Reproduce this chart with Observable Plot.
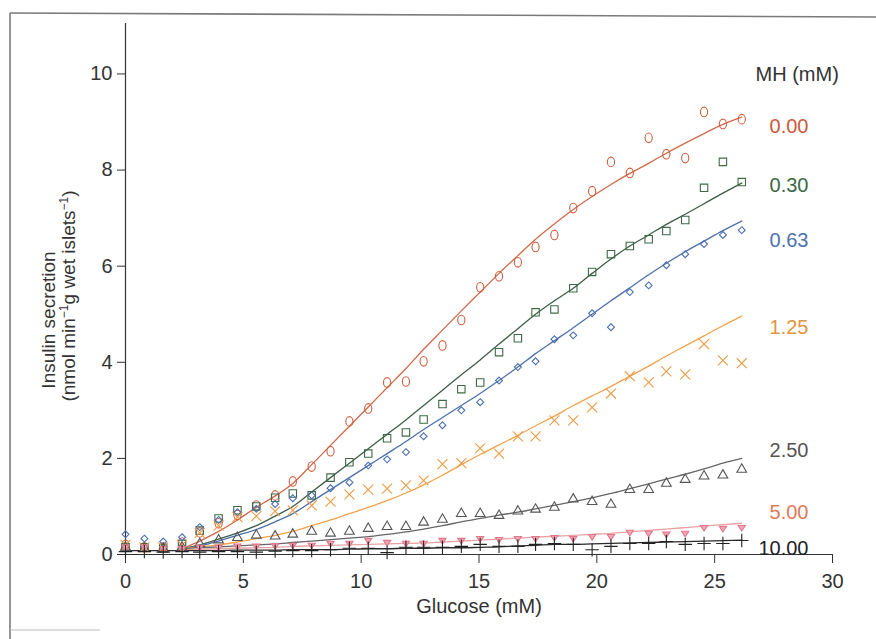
<!DOCTYPE html>
<html>
<head>
<meta charset="utf-8">
<script src="https://cdn.jsdelivr.net/npm/d3@7"></script>
<script src="https://cdn.jsdelivr.net/npm/@observablehq/plot@0.6"></script>
<style>
  html, body { margin: 0; padding: 0; background: #fff; }
  #chart { position: relative; width: 876px; height: 639px; overflow: hidden; }
</style>
</head>
<body>
<div id="chart"></div>
<script>
// ---------- data ----------
const mhLabels = ["0.00", "0.30", "0.63", "1.25", "2.50", "5.00", "10.00"];

const glucose = [0, 0.8, 1.6, 2.4, 3.15, 3.95, 4.75, 5.55, 6.35, 7.1, 7.9, 8.7, 9.5, 10.3, 11.1, 11.9, 12.65,
  13.45, 14.25, 15.05, 15.85, 16.65, 17.4, 18.2, 19.0, 19.8, 20.6, 21.4, 22.2, 22.95, 23.75, 24.55, 25.35, 26.15];

// measured insulin secretion (markers)
const obs000 = [0.2, 0.15, 0.15, 0.25, 0.46, 0.65, 0.82, 1.02, 1.23, 1.52, 1.83, 2.15, 2.77, 3.04, 3.58, 3.6, 4.02,
  4.35, 4.88, 5.56, 5.79, 6.08, 6.4, 6.65, 7.21, 7.56, 8.17, 7.94, 8.67, 8.33, 8.25, 9.21, 8.96, 9.06];
const obs030 = [0.15, 0.15, 0.13, 0.22, 0.5, 0.75, 0.92, 1.0, 1.18, 1.27, 1.23, 1.6, 1.92, 2.1, 2.42, 2.54, 2.81,
  3.13, 3.44, 3.58, 4.21, 4.5, 5.04, 5.1, 5.54, 5.88, 6.25, 6.42, 6.56, 6.73, 6.96, 7.63, 8.17, 7.75];
const obs063 = [0.42, 0.33, 0.27, 0.36, 0.57, 0.72, 0.88, 0.95, 1.05, 1.17, 1.23, 1.38, 1.5, 1.85, 1.98, 2.13, 2.46,
  2.69, 3.0, 3.17, 3.62, 3.9, 4.02, 4.48, 4.56, 5.02, 4.73, 5.46, 5.6, 6.02, 6.25, 6.46, 6.65, 6.75];
const obs125 = [0.2, 0.15, 0.15, 0.2, 0.45, 0.6, 0.78, 0.8, 0.9, 0.92, 1.02, 1.1, 1.25, 1.35, 1.37, 1.44, 1.54,
  1.88, 1.9, 2.21, 2.1, 2.46, 2.46, 2.79, 2.79, 3.06, 3.35, 3.71, 3.58, 3.81, 3.75, 4.38, 4.04, 3.98];
const obs250 = [0.15, 0.12, 0.12, 0.15, 0.22, 0.3, 0.35, 0.4, 0.38, 0.42, 0.48, 0.44, 0.48, 0.54, 0.58, 0.58, 0.67,
  0.73, 0.85, 0.85, 0.81, 0.9, 0.94, 0.98, 1.15, 1.1, 1.04, 1.35, 1.35, 1.48, 1.56, 1.63, 1.65, 1.77];
const obs500 = [0.15, 0.15, 0.12, 0.12, 0.15, 0.15, 0.17, 0.17, 0.18, 0.19, 0.19, 0.23, 0.23, 0.29, 0.25, 0.23, 0.23,
  0.29, 0.29, 0.33, 0.31, 0.33, 0.33, 0.35, 0.33, 0.37, 0.37, 0.46, 0.44, 0.42, 0.44, 0.56, 0.54, 0.56];
const obs1000 = [0.06, 0.06, 0.05, 0.06, 0.05, 0.06, 0.06, 0.05, 0.07, 0.08, 0.08, 0.1, 0.13, 0.13, 0.04, 0.15, 0.15,
  0.15, 0.17, 0.21, 0.17, 0.17, 0.21, 0.23, 0.21, 0.1, 0.17, 0.23, 0.23, 0.27, 0.21, 0.23, 0.23, 0.29];

// fitted curves (lines); null = not drawn there
const fit000 = [null, null, null, 0.12, 0.28, 0.48, 0.72, 0.98, 1.22, 1.48, 1.87, 2.27, 2.67, 3.07, 3.47, 3.87, 4.27,
  4.67, 5.07, 5.46, 5.85, 6.22, 6.56, 6.88, 7.18, 7.45, 7.7, 7.93, 8.14, 8.35, 8.56, 8.76, 8.95, 9.1];
const fit030 = [null, null, null, 0.12, 0.2, 0.32, 0.45, 0.6, 0.8, 1.0, 1.3, 1.6, 1.9, 2.2, 2.5, 2.8, 3.1,
  3.42, 3.74, 4.05, 4.38, 4.7, 5.0, 5.28, 5.54, 5.85, 6.15, 6.42, 6.65, 6.87, 7.08, 7.3, 7.52, 7.73];
const fit063 = [null, null, null, 0.12, 0.18, 0.28, 0.4, 0.52, 0.68, 0.85, 1.1, 1.35, 1.6, 1.85, 2.1, 2.35, 2.6,
  2.85, 3.1, 3.35, 3.62, 3.9, 4.18, 4.45, 4.72, 5.0, 5.28, 5.55, 5.82, 6.06, 6.3, 6.52, 6.74, 6.94];
const fit125 = [null, null, null, 0.12, 0.16, 0.2, 0.26, 0.33, 0.4, 0.48, 0.6, 0.72, 0.85, 0.98, 1.12, 1.28, 1.45,
  1.65, 1.87, 2.08, 2.28, 2.48, 2.68, 2.88, 3.1, 3.3, 3.5, 3.71, 3.92, 4.13, 4.34, 4.55, 4.76, 4.96];
const fit250 = [null, null, null, 0.12, 0.14, 0.16, 0.18, 0.2, 0.22, 0.25, 0.28, 0.31, 0.34, 0.37, 0.42, 0.47, 0.53,
  0.6, 0.68, 0.75, 0.82, 0.88, 0.95, 1.02, 1.1, 1.18, 1.27, 1.37, 1.47, 1.57, 1.67, 1.78, 1.9, 2.0];
const fit500 = [null, null, null, 0.1, 0.11, 0.12, 0.13, 0.14, 0.15, 0.17, 0.18, 0.19, 0.2, 0.21, 0.22, 0.23, 0.24,
  0.26, 0.28, 0.3, 0.32, 0.34, 0.36, 0.38, 0.4, 0.42, 0.44, 0.47, 0.5, 0.53, 0.56, 0.59, 0.62, 0.65];
const fit1000 = [0.08, 0.08, 0.08, 0.08, 0.08, 0.08, 0.09, 0.09, 0.09, 0.1, 0.1, 0.1, 0.11, 0.12, 0.12, 0.13, 0.13,
  0.14, 0.14, 0.15, 0.16, 0.18, 0.19, 0.21, 0.21, 0.22, 0.23, 0.24, 0.25, 0.26, 0.27, 0.28, 0.29, 0.3];

const xTicks = [0, 5, 10, 15, 20, 25, 30];
const yTicks = [0, 2, 4, 6, 8, 10];
const xLabel = "Glucose (mM)";
const legendTitle = "MH (mM)";

// ---------- layout / style (not data) ----------
const legendY = [8.9, 7.67, 6.54, 4.73, 2.17, 0.875, 0.125]; // label positions in y units
const legendX = 28.98;

const ellipse = {
  draw(ctx, size) {
    const r = Math.sqrt(size / Math.PI), rx = r * 0.75, ry = r, k = 0.5523;
    ctx.moveTo(rx, 0);
    ctx.bezierCurveTo(rx, ry * k, rx * k, ry, 0, ry);
    ctx.bezierCurveTo(-rx * k, ry, -rx, ry * k, -rx, 0);
    ctx.bezierCurveTo(-rx, -ry * k, -rx * k, -ry, 0, -ry);
    ctx.bezierCurveTo(rx * k, -ry, rx, -ry * k, rx, 0);
    ctx.closePath();
  }
};
const triDown = {
  draw(ctx, size) {
    const r = Math.sqrt(size / Math.PI);
    ctx.moveTo(-r, -r * 0.6);
    ctx.lineTo(r, -r * 0.6);
    ctx.lineTo(0, r * 0.95);
    ctx.closePath();
  }
};

const style = {
  "0.00":  {mark: "#cf5f3f", line: "#d0694b", text: "#cc5a38", symbol: ellipse, r: 4.8, fill: "none"},
  "0.30":  {mark: "#3e6a47", line: "#3d5e47", text: "#3b6844", symbol: "square", r: 4.2, fill: "none"},
  "0.63":  {mark: "#4a6fb0", line: "#4c70aa", text: "#4d72b0", symbol: "diamond2", r: 3.1, fill: "none"},
  "1.25":  {mark: "#eb9b45", line: "#f0a24c", text: "#e2953e", symbol: "times", r: 4.6, fill: "none"},
  "2.50":  {mark: "#555555", line: "#666666", text: "#555555", symbol: "triangle", r: 3.6, fill: "none"},
  "5.00":  {mark: "#e2768c", line: "#e8a2a2", text: "#df7a58", symbol: triDown, r: 3.6, fill: "#f2a7b5"},
  "10.00": {mark: "#222222", line: "#2a2a2a", text: "#222222", symbol: "plus", r: 4.4, fill: "none"}
};

// ---------- tidy tables ----------
const obsBy = [obs000, obs030, obs063, obs125, obs250, obs500, obs1000];
const fitBy = [fit000, fit030, fit063, fit125, fit250, fit500, fit1000];
const points = [], curves = [];
mhLabels.forEach((mh, s) => {
  glucose.forEach((g, i) => {
    points.push({mh, glucose: g, value: obsBy[s][i]});
    if (fitBy[s][i] != null) curves.push({mh, glucose: g, value: fitBy[s][i]});
  });
});
const legend = mhLabels.map((mh, i) => ({mh, y: legendY[i]}));

const font = "'Liberation Sans', Arial, Helvetica, sans-serif";

const marks = [
  Plot.ruleY([0], {x1: 0, x2: 30, stroke: "#333", strokeWidth: 1.2}),
  Plot.ruleX([0], {y1: 0, y2: 11.05, stroke: "#333", strokeWidth: 1.2}),
  Plot.axisX({ticks: xTicks, tickSize: 9, tickPadding: 10, label: null, fontSize: 20, stroke: "#333", color: "#333"}),
  Plot.axisY({ticks: yTicks, tickSize: 8, tickPadding: 5, label: null, fontSize: 20, stroke: "#333", color: "#333"}),
  Plot.text([xLabel], {frameAnchor: "bottom", dy: 58, text: d => d, fontSize: 20, fill: "#333"}),
  Plot.text([legendTitle], {x: 28.5, y: 9.98, text: d => d, fontSize: 20, fill: "#333"})
];
mhLabels.forEach(mh => {
  const st = style[mh];
  marks.push(Plot.line(curves.filter(d => d.mh === mh),
    {x: "glucose", y: "value", stroke: st.line, strokeWidth: 1.3, curve: "monotone-x"}));
});
mhLabels.forEach(mh => {
  const st = style[mh];
  marks.push(Plot.dot(points.filter(d => d.mh === mh),
    {x: "glucose", y: "value", symbol: st.symbol, r: st.r, stroke: st.mark, fill: st.fill, strokeWidth: 1.1}));
});
marks.push(Plot.text(legend, {x: legendX, y: "y", text: "mh", textAnchor: "end", fontSize: 20,
  fill: d => style[d.mh].text}));

const svg = Plot.plot({
  width: 876,
  height: 639,
  marginLeft: 125,
  marginRight: 44,
  marginTop: 23,
  marginBottom: 85,
  x: {domain: [0, 30]},
  y: {domain: [0, 11.05]},
  style: {fontFamily: font, background: "#fff", color: "#333", overflow: "visible"},
  marks
});

// y-axis title (two lines, rotated) and scan border
const s = d3.select(svg);
s.append("text").attr("transform", "translate(55,320) rotate(-90)")
  .attr("text-anchor", "middle").attr("font-size", 19).attr("fill", "#333").attr("font-family", font)
  .text("Insulin secretion");
const yl2 = s.append("text").attr("transform", "translate(75,296) rotate(-90)")
  .attr("text-anchor", "middle").attr("font-size", 19).attr("fill", "#333").attr("font-family", font);
yl2.append("tspan").text("(nmol min");
yl2.append("tspan").attr("font-size", 12).attr("dy", -7).text("−1");
yl2.append("tspan").attr("dy", 7).text("g wet islets");
yl2.append("tspan").attr("font-size", 12).attr("dy", -7).text("−1");
yl2.append("tspan").attr("dy", 7).text(")");

const frame = s.append("g").attr("stroke", "#7a7a7a").attr("stroke-width", 1.6).attr("fill", "none");
frame.append("line").attr("x1", 10).attr("y1", 13).attr("x2", 876).attr("y2", 17);
frame.append("line").attr("x1", 10).attr("y1", 13).attr("x2", 10).attr("y2", 639);
frame.append("line").attr("x1", 10).attr("y1", 630).attr("x2", 100).attr("y2", 630).attr("stroke", "#bbb").attr("stroke-width", 1);

document.getElementById("chart").appendChild(svg);
</script>
</body>
</html>
